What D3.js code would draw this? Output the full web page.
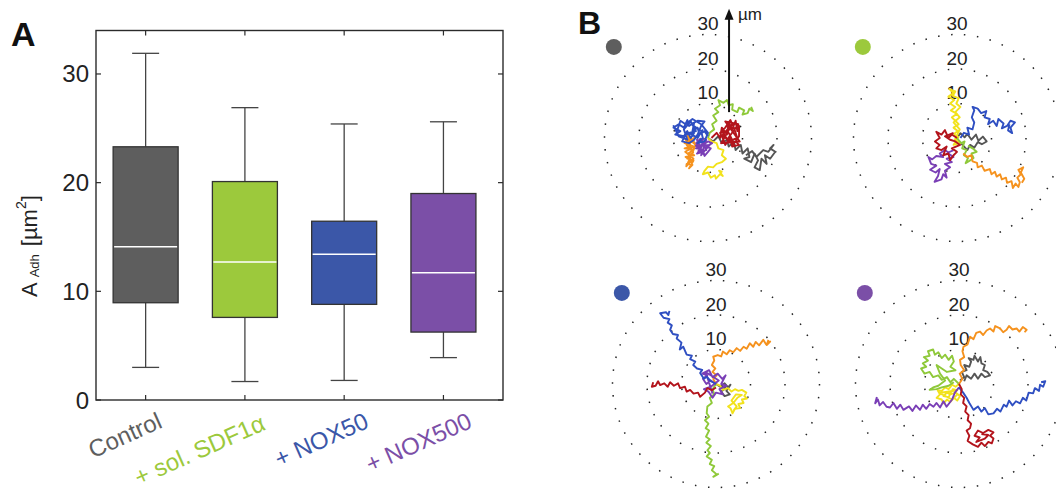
<!DOCTYPE html>
<html>
<head>
<meta charset="utf-8">
<script src="https://cdn.jsdelivr.net/npm/d3@7"></script>
<style>
  body { margin: 0; background: #fff; }
  svg { display: block; font-family: "Liberation Sans", Arial, sans-serif; }
</style>
</head>
<body>
<svg id="chart" width="1056" height="492"></svg>
<script>
// ---- panel A: adhesion area box plots ----
const groups = ["Control", "+ sol. SDF1α", "+ NOX50", "+ NOX500"];
const groupColors = ["#5e5e5e", "#9cc93c", "#3b57a8", "#7b4fa7"];
const whiskerLow = [3.0, 1.7, 1.8, 3.9];
const q1 = [8.95, 7.6, 8.8, 6.25];
const medians = [14.1, 12.7, 13.4, 11.7];
const q3 = [23.3, 20.1, 16.45, 19.0];
const whiskerHigh = [31.9, 26.9, 25.4, 25.6];
const yTicks = [0, 10, 20, 30];

// ---- panel B: cell tracks (µm, origin = start point) ----
const ringRadii = [10, 20, 30];
const trackColors = {
  gray: "#555555", red: "#b3141c", yellow: "#f2e21c", green: "#8fc93a",
  orange: "#f5921e", purple: "#7a3fb6", blue: "#2f4fc2"
};

const tracksControl = {
  gray: [[0,0],[1.5,-1],[3,0.5],[4,-1.5],[5.5,-0.5],[6,-2.5],[7.5,-1],[8,-3.5],[9.5,-2],[10,-4.5],[11.5,-3],[12,-5.5],[10.5,-6],[12.5,-7],[13.5,-4.5],[14.5,-6.5],[13.5,-8.5],[15,-9.3],[15.5,-6],[17,-7.5],[16.5,-5],[18,-6],[19.5,-4],[18,-3],[19,-2],[17.5,-4],[16,-3.5],[14,-5.5],[12.8,-3.8],[11,-5]],
  yellow: [[0,0],[1,-1],[2.5,-1.5],[3,-3],[4.5,-3.5],[4,-5],[5.2,-6],[4,-7],[2.5,-7.5],[1.5,-8.5],[0,-8.3],[-1,-9.5],[-1.5,-10.5],[0,-10],[0.8,-11.5],[2,-10.8],[2.3,-11.8],[3.5,-10.5],[4.3,-11],[3.2,-9.5],[4.2,-9.8]],
  green: [[0,0],[0.5,1.5],[1.8,2.5],[1.2,4],[2.5,5],[1.5,6.5],[3,7.5],[2,8.5],[3.5,9.5],[3,11],[4.5,10.2],[5.5,11],[6,9.5],[7.2,9.8],[7,8.2],[8.5,7.5],[9,8.8],[10.5,8],[10,6.8],[11.5,7.2],[12,8.5],[13,7.8],[12.5,9]],
  orange: [[-3.5,0.5],[-4.5,-0.5],[-3.8,-1.5],[-5.5,-1],[-6.5,-0.5],[-5,-2.5],[-6.8,-3],[-4.2,-3.5],[-5.8,-4.5],[-4,-5],[-6.5,-5.5],[-5,-6.5],[-6.2,-7.5],[-4.5,-7.8],[-5.5,-8.8],[-4.2,-6.5],[-6,-6],[-4.3,-4.2],[-6.2,-2],[-4.8,-0.2],[-6,0.8],[-5.2,-1.8],[-6.8,-1.5],[-4,-2.5],[-6.6,-4],[-4.2,-6],[-6.3,-8.2],[-4.8,-5],[-3.6,-2],[-5.8,0]],
  purple: [[-1,0],[-2,-1.2],[-3.2,-0.5],[-2.5,-2],[-3.5,-3],[-2,-3.2],[-3.2,-4.5],[-1.5,-4],[-1,-5.2],[0,-4],[0.8,-3],[-0.5,-2.5],[1.2,-1.5],[0,-1],[-1.5,-2],[-2.8,-3.8],[-0.5,-3.5],[-2.2,-0.2],[-3.4,-1.5],[-1,-4.8],[-3.5,-2.2],[0.5,-2],[-2,-5],[-0.5,-0.5],[-3,-3]],
  blue: [[0,0.5],[-1,2],[-2.5,1],[-3,3],[-4.5,2],[-4,4.5],[-5.5,3.5],[-6,5.2],[-7,3],[-8.5,4],[-10,3],[-8,2],[-9.5,1],[-7,0.5],[-6,2],[-5,0],[-4,1.5],[-6.5,1],[-7.5,-1],[-5.5,-1.5],[-4,-0.5],[-3,1],[-2,3.5],[-1,4.8],[-3,5],[-4.8,4],[-2,2],[-1.5,0],[-3,-1.5],[-1,-1],[0,1.5],[-2,4],[-4.5,5.5],[-6.5,4],[-8,5],[-9,2],[-10,3.5],[-8.5,0.5],[-6,-0.5],[-7,2.5],[-5,4.8],[-3.5,2],[-5.5,1.5],[-3,0],[-1.5,2.5]],
  red: [[1,0],[2.5,1.5],[3.5,0],[4,3],[5.5,1],[6,4.5],[7,2.5],[8,5],[8.5,2],[9,3.5],[9,0.5],[8,-1],[9,-2],[7,-2.5],[6.5,0],[5,-2],[4.5,-0.5],[3.5,1.5],[5,3],[6.5,5.2],[7.5,3],[8.5,0],[6,-1],[4,2],[6,1.5],[7.5,-1.5],[5.5,-0.5],[8.8,4],[5,4.8],[9.2,-1],[3.8,-1.5],[7,4],[4.2,0.8],[8,-2.4]]
};

const tracksSdf = {
  orange: [[1.8,-4.5],[3,-5.5],[4.2,-5],[4.5,-6.8],[5.8,-7.2],[6,-8.5],[7.2,-8],[8,-9.5],[9.5,-9],[10,-10.5],[11,-9.8],[11.5,-11.2],[12.5,-10.5],[13,-12],[14.2,-11.5],[14.5,-13],[15.8,-12.5],[16.2,-14.5],[17,-13.2],[17.8,-14.2],[18.2,-12.8],[17.5,-11.5],[18.5,-10.5],[17.8,-9.2],[19.2,-8.5],[18.5,-10],[19.5,-11.8],[18.8,-13]],
  purple: [[-1,-3.5],[-2.5,-4.2],[-3.5,-3.5],[-5,-4.5],[-4,-5.5],[-6,-5.2],[-7.2,-6.2],[-8.3,-5.5],[-7.5,-7.5],[-6,-8],[-7.8,-9.2],[-6.2,-10],[-5,-9],[-5.5,-11],[-6.5,-12.7],[-4.5,-12],[-4,-10.5],[-3,-11.5],[-3.5,-9.5],[-2,-8.5],[-3.5,-7.5],[-1.5,-7],[-3,-6],[-1,-5.5],[-2.5,-4.5]],
  blue: [[1,0],[2,1.5],[3.5,1],[3,3],[4.5,2.5],[5,4.5],[4.3,6],[5,8],[4.5,9],[6,8.5],[7,7.2],[8.5,7.8],[8,6],[9.5,5.5],[9,4],[10.5,5],[11.5,3.5],[12,5.5],[13.5,4.2],[13,2.8],[14.5,3.5],[15.5,5],[16.8,4.5],[15.5,3],[16,1.4],[14.8,2.2],[15.2,4]],
  gray: [[0,0],[1,1.4],[2.2,0.2],[3,1.2],[4.2,-0.5],[5.5,1],[6.2,-0.8],[7.5,0.4],[8.6,-1],[7.2,-1.8],[6,-1.2],[5,-2.8],[3.8,-2],[3,-3.5],[1.8,-2.2],[0.8,-1.2]],
  green: [[0,0],[1.2,-1.5],[2.2,-1],[1.5,-3],[2.8,-3.5],[2,-5],[3.2,-5.8],[2.5,-7.3],[3.8,-6.5],[4.8,-5.8],[4.2,-4.5],[5.7,-4],[4.5,-3],[3.2,-2.2]],
  red: [[0,0],[-1.5,1],[-2.5,0],[-3.5,2.3],[-4.5,1],[-6,1.8],[-5,0],[-6.4,-1],[-5,-2],[-6,-3],[-4.5,-3.5],[-3,-2.5],[-4,-5],[-2.5,-4.5],[-2,-6.4],[-1,-5],[0,-4],[-1.5,-3],[0.9,-2],[-0.5,-1],[-2,-0.5],[-3.5,0.5],[-1,1.5]],
  yellow: [[0,0],[-0.8,1.2],[0.2,2],[-1,3],[0.5,4],[-0.5,5],[-1.5,6],[0,7],[-1.8,8],[-0.5,9],[-2,10],[-0.8,11],[-2.5,12],[-1,13],[-2.2,14.2],[-0.5,13.5],[-1.2,12.2],[0.5,11.5],[-0.2,10],[1,9],[-0.5,7.5],[0.8,6],[-1,4.5],[0.8,2.5],[-0.6,-0.5],[1,-1.5],[-1,-2],[0.5,0.5]]
};

const tracksNox50 = {
  blue: [[0,0],[-1.5,0.8],[-2.7,2.1],[-3.5,1.5],[-4.6,3.2],[-4,4.1],[-5.5,4.5],[-6.6,5.5],[-6,6.5],[-7.5,7.2],[-7,8.2],[-8.5,8.5],[-9.5,10.8],[-10.5,10],[-10,12],[-11.4,13.2],[-11,14.2],[-12.5,14.5],[-13.3,15.7],[-12.8,17],[-14,17.8],[-13.5,18.8],[-15.2,19.2],[-16.2,20.5],[-14.5,20.8],[-13.8,20],[-13.5,21.2]],
  orange: [[0,0],[-0.8,1.5],[0.2,2.5],[-1,3.5],[-0.2,4.5],[-1.2,5.5],[-0.5,6.8],[-0.8,7.9],[0.5,8.4],[1.5,8],[2,9.4],[3.1,8.6],[4,9.8],[5,9.2],[6,10.4],[7,9.6],[8,10.8],[8.9,10.2],[9.8,11.8],[10.8,10.8],[11.5,12.2],[12.5,11.2],[13.7,12.8],[14.5,11.5],[15.7,12.3],[14.7,11.3],[15.2,12.8]],
  red: [[0,-1],[-1.2,-1.8],[-2.5,-1.2],[-3.2,-2.5],[-4.6,-3.7],[-5.2,-2.5],[-6.5,-2.8],[-7.5,-1.7],[-8.5,-2.2],[-9,-0.8],[-10.4,-1.2],[-11,0.2],[-12.2,-0.5],[-13.3,0.5],[-14,-0.8],[-15,0.2],[-16.2,-0.3],[-16.8,0.8],[-17.5,-0.5],[-18.6,-0.8],[-18.2,0.5]],
  green: [[0,0],[-1,-1.5],[-0.5,-3],[-1.8,-4],[-1.2,-5.5],[-2.5,-6.5],[-2.7,-8.5],[-2,-9.5],[-3.2,-10.5],[-2.2,-11.5],[-3,-12.8],[-2,-13.5],[-2.9,-15.3],[-1.8,-16],[-2.8,-17],[-1.5,-18],[-2.5,-19.2],[-1.8,-20],[-2.7,-21],[-1.2,-22],[-1.8,-23.2],[-0.5,-23.8],[-1.2,-25],[0.2,-26.2],[-0.8,-26.9],[0.8,-26]],
  yellow: [[0,0],[1.2,-0.5],[2,-1.7],[3.5,-1.2],[4.5,-2.2],[5.5,-1.5],[6.5,-2],[7.5,-1.7],[8.8,-2.5],[8.2,-3.5],[9,-4.2],[7.5,-4.5],[8,-5.5],[6.5,-5.8],[7,-7],[5.5,-7.2],[4.8,-8.5],[4.2,-7],[3.5,-6.5],[5,-5.5],[6.2,-4],[7.5,-3.2],[5.8,-3],[4.5,-4.8],[6,-6.5],[5,-7.8]],
  gray: [[0,0],[1.2,-0.8],[2.5,0.2],[3.5,-1],[4.2,-0.2],[3,-2],[4,-3],[2.5,-3.5],[1.5,-2.2],[2.8,-1.2],[1,-0.5]],
  purple: [[0,0],[-1.5,1],[-2.8,0],[-3.8,1.5],[-2.5,2.5],[-4,3],[-2,4],[-1,2],[0.5,3],[1.8,1.5],[2.8,2.5],[1.5,0],[3,-0.5],[1,-1.5],[2,-3],[0,-2.5],[-1,-4],[-2.2,-2.2],[-3.5,-1.5],[-1.5,-0.8],[0.8,1],[-3,3.5],[-1,-2.8]]
};

const tracksNox500 = {
  orange: [[0,0],[1,1.5],[0.2,3],[1.5,4],[0.5,5.5],[0.3,7],[1.5,7.8],[1,9.5],[1.3,10.8],[2.5,11.5],[3.2,13.7],[4.2,13],[5,14.8],[6.1,15.2],[7,14.2],[8,15.5],[9,16.1],[10,15.2],[10.5,16.8],[11.9,16.1],[12.8,15],[13.8,15.7],[14.5,16.8],[15.5,15.8],[16.7,16.1],[17.5,15.2],[18.5,16.5],[19.6,15.7],[19,15]],
  green: [[0,0],[-1.5,1.5],[-2.5,0.5],[-3.5,2],[-5,1.2],[-6,2.5],[-7.5,2],[-8.5,3.5],[-10,3],[-11,4.5],[-9.5,5],[-10.5,6],[-9,6.8],[-10.2,7.8],[-8.5,8.2],[-9,9.5],[-7.5,10],[-7,8.5],[-6,9.2],[-5,7.5],[-4,8.5],[-3,7],[-2,8.2],[-1.5,6.5],[-2.5,5],[-1,4],[-3.5,3.5],[-5,4.5],[-6.5,5.5],[-5.5,3],[-4,1],[-6,-0.5],[-7.5,-1],[-8.5,-1.7],[-6.5,-1.5],[-5,-1],[-3,-0.5],[-1.5,0.5]],
  gray: [[0.3,1],[1.5,2],[0.8,3.5],[2.2,4],[1.5,5.5],[3,5],[3.5,6.5],[2.8,7.5],[4.2,7],[4.5,8.2],[5.5,6.5],[6.2,7.8],[6.5,6],[7.5,5.5],[7,4],[8.2,3.5],[9,2.5],[7.5,2],[6.5,3],[5.5,1.5],[4.5,3],[3.5,1.5],[2.2,2.5],[1.5,0.8]],
  blue: [[0,-1],[1.2,-2.5],[2.2,-4],[3,-5.5],[4.2,-7.5],[5.5,-6.5],[6.5,-8],[7.5,-7],[8.5,-8.8],[10,-8.5],[11,-7.2],[12,-8],[13,-6],[13.8,-6.6],[14.5,-4.8],[15.5,-6.2],[16.5,-5],[17.7,-5.6],[18.5,-4],[19.5,-4.8],[20.2,-2.5],[21.5,-2.7],[22,-1.2],[23.2,-2],[23.5,-0.2],[24.4,-0.8],[25,0.8],[23.8,0.5]],
  purple: [[0,-1],[-1.2,-2.5],[-2,-4.5],[-3.6,-6.6],[-4.5,-5],[-5.5,-6.8],[-6.5,-5.5],[-7.4,-6.6],[-8.5,-5.8],[-9.5,-7.2],[-10.5,-6],[-11.3,-7.5],[-12.5,-6.2],[-13.5,-7.8],[-14.5,-6.5],[-16.1,-7.5],[-17,-6],[-18,-7.2],[-19,-5.5],[-20,-6.8],[-21,-6.6],[-22,-5.2],[-23,-6.2],[-23.5,-4.5],[-24.3,-5.6],[-23.8,-3.8]],
  red: [[0,0],[0.8,-1.5],[0.5,-3],[1.5,-4],[1.2,-5.5],[2.2,-6.5],[1.8,-8],[2.8,-9],[2.5,-10.5],[3.5,-11.5],[3.2,-12.8],[2.2,-13.5],[3,-15],[2.5,-16.5],[4,-17.5],[5.5,-18.2],[6.5,-17],[7.5,-18],[8.5,-16.8],[9.5,-17.2],[10,-15.8],[9,-15],[10,-14],[8.5,-13.3],[7,-14.2],[5.5,-13.5],[4.5,-15],[6,-15.5],[5,-16.8],[7.5,-15.8],[8.5,-14.8],[6.5,-14.5]],
  yellow: [[0,0],[-1,-0.8],[-2,-0.2],[-3,-1.5],[-4,-1],[-5,-2],[-6.2,-1.8],[-5.5,-3],[-6.5,-4],[-5,-4.5],[-4.5,-5.6],[-3.5,-4.5],[-2.5,-5.2],[-1.5,-4],[-0.5,-4.8],[0.3,-3.5],[-1,-2.5],[-2.5,-3],[-3.5,-2.5],[-4.5,-3.5],[-3,-3.8],[-1.8,-1.5],[-0.5,-1.8],[-5.8,-2.6],[-2,-4.5],[-0.2,-2.8]]
};

const panelTracks = [tracksControl, tracksSdf, tracksNox50, tracksNox500];
const scaleBar = { x: 6.1, y: 7.5, length: 30, unit: "µm" };
const markerPos = { x: -27.3, y: 26.4 };

const svg = d3.select("#chart");
const ink = "#2b2b2b";

// ---------- panel A ----------
const frame = { left: 96, right: 503, top: 30.5, bottom: 400 };
const x = d3.scaleLinear().domain([0.5, 4.6]).range([frame.left, frame.right]);
const y = d3.scaleLinear().domain([0, 34]).range([frame.bottom, frame.top]);
const boxW = 65;
const capW = 27;

const gA = svg.append("g");

gA.append("rect")
  .attr("x", frame.left).attr("y", frame.top)
  .attr("width", frame.right - frame.left).attr("height", frame.bottom - frame.top)
  .attr("fill", "none").attr("stroke", ink).attr("stroke-width", 1.4);

const xIdx = groups.map((g, i) => i + 1);

// inward ticks on all four sides
gA.append("g").selectAll("line").data(xIdx).join("line")
  .attr("x1", d => x(d)).attr("x2", d => x(d))
  .attr("y1", frame.bottom).attr("y2", frame.bottom - 5)
  .attr("stroke", ink).attr("stroke-width", 1.2);
gA.append("g").selectAll("line").data(xIdx).join("line")
  .attr("x1", d => x(d)).attr("x2", d => x(d))
  .attr("y1", frame.top).attr("y2", frame.top + 5)
  .attr("stroke", ink).attr("stroke-width", 1.2);
gA.append("g").selectAll("line").data(yTicks).join("line")
  .attr("x1", frame.left).attr("x2", frame.left + 5)
  .attr("y1", d => y(d)).attr("y2", d => y(d))
  .attr("stroke", ink).attr("stroke-width", 1.2);
gA.append("g").selectAll("line").data(yTicks).join("line")
  .attr("x1", frame.right).attr("x2", frame.right - 5)
  .attr("y1", d => y(d)).attr("y2", d => y(d))
  .attr("stroke", ink).attr("stroke-width", 1.2);

gA.append("g").selectAll("text").data(yTicks).join("text")
  .attr("x", frame.left - 7).attr("y", d => y(d))
  .attr("text-anchor", "end").attr("dominant-baseline", "central")
  .attr("font-size", 24).attr("fill", "#222")
  .text(d => d);

// boxes
const boxes = gA.append("g").selectAll("g").data(groups).join("g");
boxes.append("line")
  .attr("x1", (d, i) => x(i + 1)).attr("x2", (d, i) => x(i + 1))
  .attr("y1", (d, i) => y(whiskerHigh[i])).attr("y2", (d, i) => y(q3[i]))
  .attr("stroke", "#444").attr("stroke-width", 1.3);
boxes.append("line")
  .attr("x1", (d, i) => x(i + 1)).attr("x2", (d, i) => x(i + 1))
  .attr("y1", (d, i) => y(q1[i])).attr("y2", (d, i) => y(whiskerLow[i]))
  .attr("stroke", "#444").attr("stroke-width", 1.3);
boxes.append("line")
  .attr("x1", (d, i) => x(i + 1) - capW / 2).attr("x2", (d, i) => x(i + 1) + capW / 2)
  .attr("y1", (d, i) => y(whiskerHigh[i])).attr("y2", (d, i) => y(whiskerHigh[i]))
  .attr("stroke", "#444").attr("stroke-width", 1.3);
boxes.append("line")
  .attr("x1", (d, i) => x(i + 1) - capW / 2).attr("x2", (d, i) => x(i + 1) + capW / 2)
  .attr("y1", (d, i) => y(whiskerLow[i])).attr("y2", (d, i) => y(whiskerLow[i]))
  .attr("stroke", "#444").attr("stroke-width", 1.3);
boxes.append("rect")
  .attr("x", (d, i) => x(i + 1) - boxW / 2).attr("width", boxW)
  .attr("y", (d, i) => y(q3[i])).attr("height", (d, i) => y(q1[i]) - y(q3[i]))
  .attr("fill", (d, i) => groupColors[i]).attr("stroke", "#333").attr("stroke-width", 1.3);
boxes.append("line")
  .attr("x1", (d, i) => x(i + 1) - boxW / 2 + 1).attr("x2", (d, i) => x(i + 1) + boxW / 2 - 1)
  .attr("y1", (d, i) => y(medians[i])).attr("y2", (d, i) => y(medians[i]))
  .attr("stroke", "#fff").attr("stroke-width", 1.5);

// rotated category labels
gA.append("g").selectAll("text").data(groups).join("text")
  .attr("transform", (d, i) => `translate(${x(i + 1) + 18 + 4 * i},${i === 1 ? 429 : 427}) rotate(-24)`)
  .attr("text-anchor", "end")
  .attr("font-size", 24)
  .attr("fill", (d, i) => groupColors[i])
  .text(d => d);

// y-axis title: A_Adh [µm²]
const yTitle = gA.append("text")
  .attr("transform", "translate(37,297) rotate(-90)")
  .attr("font-size", 22).attr("fill", "#222");
yTitle.append("tspan").text("A");
yTitle.append("tspan").attr("font-size", 13).attr("dx", 5).attr("dy", 2).text("Adh");
yTitle.append("tspan").attr("dx", 8).attr("dy", -2).text("[µm");
yTitle.append("tspan").attr("font-size", 14).attr("dy", -11).text("2");
yTitle.append("tspan").attr("dy", 11).text("]");

svg.append("text").attr("x", 11).attr("y", 46)
  .attr("font-size", 34).attr("font-weight", "bold").attr("fill", "#111").text("A");

// ---------- panel B ----------
svg.append("text").attr("x", 578).attr("y", 34)
  .attr("font-size", 32).attr("font-weight", "bold").attr("fill", "#111").text("B");

const centers = [[708, 138], [957, 138], [716, 384], [959, 384]];
const pxPerUm = 3.45;
const r = d3.scaleLinear().domain([0, 30]).range([0, 30 * pxPerUm]);
const line = d3.line().x(d => r(d[0])).y(d => -r(d[1]));
const drawOrder = ["gray", "yellow", "green", "orange", "purple", "blue", "red"];

panelTracks.forEach((tracks, p) => {
  const g = svg.append("g").attr("transform", `translate(${centers[p][0]},${centers[p][1]})`);

  g.append("g").selectAll("circle").data(ringRadii).join("circle")
    .attr("r", d => r(d))
    .attr("fill", "none").attr("stroke", "#222").attr("stroke-width", 1.5)
    .attr("stroke-dasharray", d => {
      const c = 2 * Math.PI * r(d);
      const n = Math.round(c / 13);
      return `1.5 ${(c / n - 1.5).toFixed(3)}`;
    });

  g.append("g").selectAll("text").data(ringRadii).join("text")
    .attr("x", 0).attr("y", d => -r(d) - 11)
    .attr("text-anchor", "middle").attr("dominant-baseline", "central")
    .attr("font-size", 19).attr("fill", "#222")
    .text(d => d);

  const keys = drawOrder.filter(k => tracks[k]);
  g.append("g").selectAll("path").data(keys).join("path")
    .attr("d", k => line(tracks[k]))
    .attr("fill", "none")
    .attr("stroke", k => trackColors[k])
    .attr("stroke-width", 1.9)
    .attr("stroke-linejoin", "round");

  g.append("circle")
    .attr("cx", r(markerPos.x)).attr("cy", -r(markerPos.y))
    .attr("r", 8).attr("fill", groupColors[p]);

  if (p === 0) {
    const bx = r(scaleBar.x), by = -r(scaleBar.y), top = by - r(scaleBar.length);
    g.append("line")
      .attr("x1", bx).attr("x2", bx).attr("y1", by).attr("y2", top + 9)
      .attr("stroke", "#111").attr("stroke-width", 2);
    g.append("path")
      .attr("d", `M${bx},${top} L${bx - 4.5},${top + 11} L${bx + 4.5},${top + 11} Z`)
      .attr("fill", "#111");
    g.append("text")
      .attr("x", bx + 9).attr("y", top + 11)
      .attr("font-size", 17).attr("fill", "#222")
      .text(scaleBar.unit);
  }
});
</script>
</body>
</html>
